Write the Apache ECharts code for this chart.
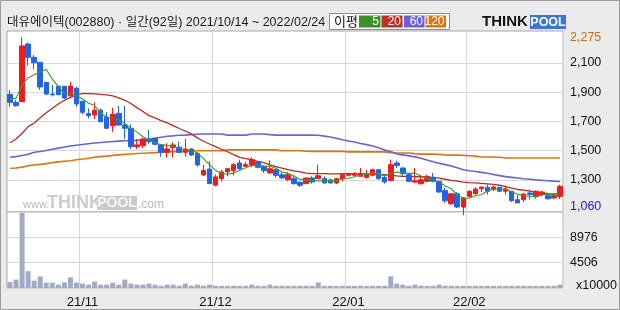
<!DOCTYPE html>
<html><head><meta charset="utf-8">
<script src="https://cdn.jsdelivr.net/npm/echarts@6/dist/echarts.min.js"></script>
<style>html,body{margin:0;padding:0;background:#ebebeb}#c{width:620px;height:310px}</style>
</head><body><div id="c"></div>
<script>
const dates = [
'2021-10-14','2021-10-15','2021-10-18','2021-10-19','2021-10-20','2021-10-21','2021-10-22','2021-10-25','2021-10-26','2021-10-27','2021-10-28','2021-10-29',
'2021-11-01','2021-11-02','2021-11-03','2021-11-04','2021-11-05','2021-11-08','2021-11-09','2021-11-10','2021-11-11','2021-11-12','2021-11-15','2021-11-16','2021-11-17','2021-11-18','2021-11-19','2021-11-22','2021-11-23','2021-11-24','2021-11-25','2021-11-26','2021-11-29','2021-11-30',
'2021-12-01','2021-12-02','2021-12-03','2021-12-06','2021-12-07','2021-12-08','2021-12-09','2021-12-10','2021-12-13','2021-12-14','2021-12-15','2021-12-16','2021-12-17','2021-12-20','2021-12-21','2021-12-22','2021-12-23','2021-12-24','2021-12-27','2021-12-28','2021-12-29','2021-12-30',
'2022-01-03','2022-01-04','2022-01-05','2022-01-06','2022-01-07','2022-01-10','2022-01-11','2022-01-12','2022-01-13','2022-01-14','2022-01-17','2022-01-18','2022-01-19','2022-01-20','2022-01-21','2022-01-24','2022-01-25','2022-01-26','2022-01-27','2022-01-28',
'2022-02-03','2022-02-04','2022-02-07','2022-02-08','2022-02-09','2022-02-10','2022-02-11','2022-02-14','2022-02-15','2022-02-16','2022-02-17','2022-02-18','2022-02-21','2022-02-22','2022-02-23','2022-02-24'
];
const opens = [1886,1831,1836,2230,2139,2105,1968,1888,1941,1941,1875,1927,1838,1754,1745,1777,1731,1671,1756,1676,1654,1528,1535,1578,1585,1540,1489,1521,1524,1489,1512,1482,1334,1375,1264,1309,1355,1364,1416,1394,1400,1423,1394,1348,1370,1336,1302,1309,1284,1275,1314,1309,1309,1300,1280,1309,1332,1332,1325,1318,1332,1370,1318,1296,1416,1382,1336,1286,1275,1291,1318,1291,1227,1138,1206,1115,1188,1206,1240,1250,1234,1250,1223,1223,1165,1165,1211,1188,1200,1193,1177,1188];
const closes = [1831,1808,2217,2139,2102,1936,1888,1883,1884,1861,1943,1820,1763,1740,1777,1699,1654,1749,1676,1654,1528,1540,1580,1562,1544,1489,1512,1540,1489,1512,1471,1403,1366,1275,1321,1355,1377,1405,1377,1405,1439,1387,1364,1377,1332,1314,1336,1275,1264,1314,1286,1329,1280,1280,1309,1336,1343,1341,1343,1336,1370,1309,1286,1405,1400,1343,1291,1295,1302,1325,1291,1218,1158,1206,1115,1177,1223,1238,1252,1223,1252,1223,1238,1158,1143,1204,1200,1223,1218,1172,1193,1257];
const lows = [1801,1801,1831,2082,2057,1916,1881,1872,1880,1854,1863,1801,1749,1722,1717,1695,1649,1630,1670,1580,1512,1512,1518,1544,1540,1459,1453,1453,1485,1459,1464,1391,1329,1275,1257,1291,1325,1332,1370,1387,1387,1380,1348,1343,1318,1307,1291,1268,1252,1270,1275,1309,1275,1275,1272,1291,1325,1325,1325,1309,1325,1302,1275,1291,1382,1329,1286,1280,1268,1284,1284,1211,1143,1130,1108,1060,1180,1197,1218,1200,1223,1218,1200,1150,1143,1150,1165,1172,1188,1165,1172,1170];
const highs = [1916,1847,2275,2240,2155,2105,1968,1952,1945,1941,1972,1938,1838,1790,1831,1790,1763,1794,1806,1806,1681,1580,1590,1642,1590,1545,1551,1558,1562,1580,1518,1490,1403,1428,1336,1370,1382,1416,1439,1423,1455,1428,1400,1435,1375,1355,1355,1325,1291,1314,1325,1405,1325,1309,1314,1343,1348,1355,1382,1370,1377,1370,1336,1439,1432,1387,1348,1382,1336,1336,1348,1295,1245,1206,1218,1184,1230,1252,1252,1268,1261,1252,1261,1223,1200,1211,1234,1227,1227,1200,1204,1268];
const ma5 = [1850,1860,1950,2000,2019,2040,2056,1990,1939,1890,1892,1878,1854,1825,1809,1760,1727,1724,1711,1686,1652,1629,1596,1573,1551,1543,1537,1529,1515,1508,1505,1483,1448,1405,1367,1344,1339,1347,1367,1384,1401,1403,1394,1394,1380,1355,1345,1327,1304,1301,1295,1294,1295,1298,1297,1307,1310,1322,1334,1340,1347,1340,1329,1341,1354,1349,1345,1347,1326,1311,1301,1286,1259,1240,1198,1175,1176,1192,1201,1223,1238,1238,1238,1219,1203,1193,1189,1186,1198,1203,1201,1213];
const ma20 = [1555,1580,1620,1665,1690,1725,1760,1790,1820,1845,1865,1882,1890,1890,1889,1886,1882,1875,1862,1845,1823,1795,1768,1740,1725,1706,1690,1672,1652,1635,1615,1588,1565,1546,1528,1510,1493,1474,1455,1446,1440,1428,1418,1403,1392,1381,1371,1363,1356,1347,1344,1343,1343,1342,1342,1343,1343,1342,1342,1342,1341,1339,1336,1333,1328,1325,1324,1323,1322,1320,1318,1313,1305,1298,1292,1286,1282,1280,1277,1274,1270,1264,1255,1245,1235,1230,1224,1218,1212,1206,1205,1206];
const ma60 = [1455,1460,1468,1476,1490,1495,1502,1510,1518,1525,1532,1538,1543,1548,1553,1556,1560,1563,1566,1568,1569,1572,1576,1580,1585,1592,1599,1602,1606,1607,1610,1613,1615,1615,1615,1615,1607,1607,1607,1607,1614,1614,1614,1610,1607,1607,1607,1607,1607,1607,1607,1606,1600,1594,1585,1575,1567,1560,1550,1542,1532,1520,1505,1494,1478,1472,1465,1458,1448,1436,1425,1415,1405,1395,1383,1370,1363,1358,1352,1346,1338,1330,1323,1318,1313,1308,1305,1301,1298,1295,1292,1290];
const ma120 = [1380,1382,1388,1398,1403,1407,1412,1419,1424,1428,1432,1438,1443,1449,1455,1460,1463,1468,1472,1475,1478,1481,1483,1485,1487,1490,1492,1494,1496,1497,1498,1500,1500,1500,1500,1500,1506,1506,1506,1506,1506,1506,1506,1506,1506,1500,1500,1500,1500,1497,1496,1496,1496,1496,1496,1496,1492,1492,1492,1492,1492,1492,1492,1486,1485,1485,1485,1480,1477,1477,1477,1475,1472,1470,1470,1468,1466,1463,1457,1457,1457,1455,1450,1450,1450,1450,1450,1450,1450,1450,1450,1450];
const volumes = [1070,1490,13300,2970,1300,2075,950,950,590,1000,1900,950,770,590,1130,590,590,950,590,1490,770,590,590,770,590,410,590,590,410,770,410,590,410,590,400,380,380,400,380,400,590,400,380,590,380,400,380,400,380,400,380,1000,400,380,380,400,380,380,400,380,380,380,400,2075,770,590,400,590,400,380,400,590,400,400,380,400,380,380,380,380,380,380,380,380,400,380,380,380,380,380,400,590];

const xTickDates = ['2021-11-01','2021-12-01','2022-01-03','2022-02-03'];
const xTickLabels = ['21/11','21/12','22/01','22/02'];
const priceTicks = [1300,1500,1700,1900,2100];
const priceHighLabel = [2275,'2,275'];
const priceLowLabel = [1060,'1,060'];
const volTicks = [4488,8976];
const volTickLabels = ['4506','8976'];
const volUnit = 'x10000';
const titleText = '대유에이텍(002880) · 일간(92일) 2021/10/14 ~ 2022/02/24';
const maNames = ['5','20','60','120'];
const maColors = ['#3d8f27','#c0302a','#6a62dc','#dc7410'];

const FONT = "'Liberation Sans','Noto Sans CJK KR',sans-serif";
const candles = dates.map((d,i)=>[opens[i],closes[i],lows[i],highs[i]]);
const tickIdx = xTickDates.map(d=>dates.indexOf(d));

const chart = echarts.init(document.getElementById('c'));
const graphics = [
  {type:'rect', z:100, shape:{x:0.5,y:0.5,width:619,height:309}, style:{fill:null, stroke:'#9c9c9c', lineWidth:1}},
  {type:'text', z:100, style:{text:titleText, x:7, y:22.5, font:'12.5px '+FONT, fill:'#1a1a1a', textVerticalAlign:'middle', verticalAlign:'middle'}},
  {type:'rect', z:100, shape:{x:329.5,y:13.5,width:120,height:16}, style:{fill:'#fff', stroke:'#8c8c8c', lineWidth:1}},
  {type:'text', z:101, style:{text:'이평', x:334, y:22, font:'13px '+FONT, fill:'#111', textVerticalAlign:'middle', verticalAlign:'middle'}}
];
const boxX = [359,381.5,404,425.5];
const boxW = [21.5,21,20.5,20.5];
maNames.forEach((n,i)=>{
  graphics.push({type:'rect', z:101, shape:{x:boxX[i],y:15.5,width:boxW[i],height:12}, style:{fill:maColors[i]}});
  graphics.push({type:'text', z:102, style:{text:n, x:boxX[i]+boxW[i]-1.5, y:22, font:'12px '+FONT, fill:'#fff', textAlign:'right', align:'right', textVerticalAlign:'middle', verticalAlign:'middle'}});
});
graphics.push(
  {type:'text', z:101, style:{text:'THINK', x:482, y:22, font:'bold 15px '+FONT, fill:'#111', textVerticalAlign:'middle', verticalAlign:'middle'}},
  {type:'rect', z:101, shape:{x:530,y:15,width:36,height:14}, style:{fill:'#3c74dc'}},
  {type:'text', z:102, style:{text:'POOL', x:548, y:22.5, font:'bold 12.5px '+FONT, fill:'#fff', textAlign:'center', align:'center', textVerticalAlign:'middle', verticalAlign:'middle'}},
  // watermark
  {type:'text', z:1, style:{text:'www.', x:23, y:205, font:'11px '+FONT, fill:'#b8b8b8', textVerticalAlign:'middle', verticalAlign:'middle'}},
  {type:'text', z:1, style:{text:'THINK', x:47, y:203, font:'bold 18px '+FONT, fill:'#cdcdcd', textVerticalAlign:'middle', verticalAlign:'middle'}},
  {type:'rect', z:1, shape:{x:97,y:196,width:40,height:14}, style:{fill:'#cacaca'}},
  {type:'text', z:1, style:{text:'POOL', x:117, y:203.5, font:'bold 14px '+FONT, fill:'#f4f4f4', textAlign:'center', align:'center', textVerticalAlign:'middle', verticalAlign:'middle'}},
  {type:'text', z:1, style:{text:'.com', x:138, y:205, font:'12px '+FONT, fill:'#b8b8b8', textVerticalAlign:'middle', verticalAlign:'middle'}},
  // axis extremes
  {type:'text', z:100, style:{text:priceLowLabel[1], x:570, y:207, font:'12.5px '+FONT, fill:'#1a1acc', textVerticalAlign:'middle', verticalAlign:'middle'}},
  {type:'text', z:100, style:{text:volUnit, x:576, y:286, font:'12.5px '+FONT, fill:'#111', textVerticalAlign:'middle', verticalAlign:'middle'}}
);

const option = {
  animation:false,
  backgroundColor:'#ebebeb',
  grid:[
    {left:7, top:31, width:556, height:181, show:true, backgroundColor:'#fff', borderColor:'#a8a8a8', borderWidth:1},
    {left:7, top:212, width:556, height:76, show:true, backgroundColor:'#fff', borderColor:'#a8a8a8', borderWidth:1}
  ],
  xAxis:[
    {type:'category', gridIndex:0, data:dates, axisLine:{show:false}, axisTick:{show:false}, axisLabel:{show:false},
     splitLine:{show:true, interval:(i)=>tickIdx.includes(i), lineStyle:{color:'#d8d8d8', width:1}}},
    {type:'category', gridIndex:1, data:dates, axisLine:{show:false}, axisTick:{show:false},
     axisLabel:{show:true, interval:(i)=>tickIdx.includes(i), formatter:(v)=>xTickLabels[xTickDates.indexOf(v)], color:'#111', fontSize:13, fontFamily:FONT, margin:8},
     splitLine:{show:true, interval:(i)=>tickIdx.includes(i), lineStyle:{color:'#d8d8d8', width:1}}}
  ],
  yAxis:[
    {type:'value', gridIndex:0, position:'right', min:1081, max:2319, axisLine:{show:false},
     axisTick:{show:false, customValues:priceTicks},
     axisLabel:{customValues:priceTicks.concat([priceHighLabel[0]]), margin:7, fontSize:12.5, fontFamily:FONT, color:'#111',
       formatter:(v)=> v===priceHighLabel[0] ? '{o|'+priceHighLabel[1]+'}' : v.toLocaleString('en-US'),
       rich:{o:{color:'#d46a10', fontSize:12.5, fontFamily:FONT}}},
     splitLine:{show:true, lineStyle:{color:'#d8d8d8', width:1}}},
    {type:'value', gridIndex:1, position:'right', min:0, max:13464, interval:4488, axisLine:{show:false}, axisTick:{show:false},
     axisLabel:{margin:7, fontSize:12.5, fontFamily:FONT, color:'#111',
       formatter:(v)=>{const k=volTicks.indexOf(v); return k>=0?volTickLabels[k]:'';}},
     splitLine:{show:true, lineStyle:{color:'#d8d8d8', width:1}}}
  ],
  graphic:graphics,
  series:[
    {type:'line', name:'MA120', data:ma120, xAxisIndex:0, yAxisIndex:0, symbol:'none', lineStyle:{color:maColors[3], width:1.6}, z:2},
    {type:'line', name:'MA60', data:ma60, xAxisIndex:0, yAxisIndex:0, symbol:'none', lineStyle:{color:maColors[2], width:1.6}, z:2},
    {type:'line', name:'MA20', data:ma20, xAxisIndex:0, yAxisIndex:0, symbol:'none', lineStyle:{color:'#b82a26', width:1.3}, z:2},
    {type:'candlestick', data:candles, xAxisIndex:0, yAxisIndex:0, barWidth:5, z:3,
     itemStyle:{color:'#ee1c1c', color0:'#2264e6', borderColor:'#ee1c1c', borderColor0:'#2264e6', borderWidth:1}},
    {type:'line', name:'MA5', data:ma5, xAxisIndex:0, yAxisIndex:0, symbol:'none', lineStyle:{color:'#3f9a26', width:1.1}, z:4},
    {type:'bar', data:volumes, xAxisIndex:1, yAxisIndex:1, barWidth:5, itemStyle:{color:'#a3abc3'}}
  ]
};
chart.setOption(option);
</script></body></html>
